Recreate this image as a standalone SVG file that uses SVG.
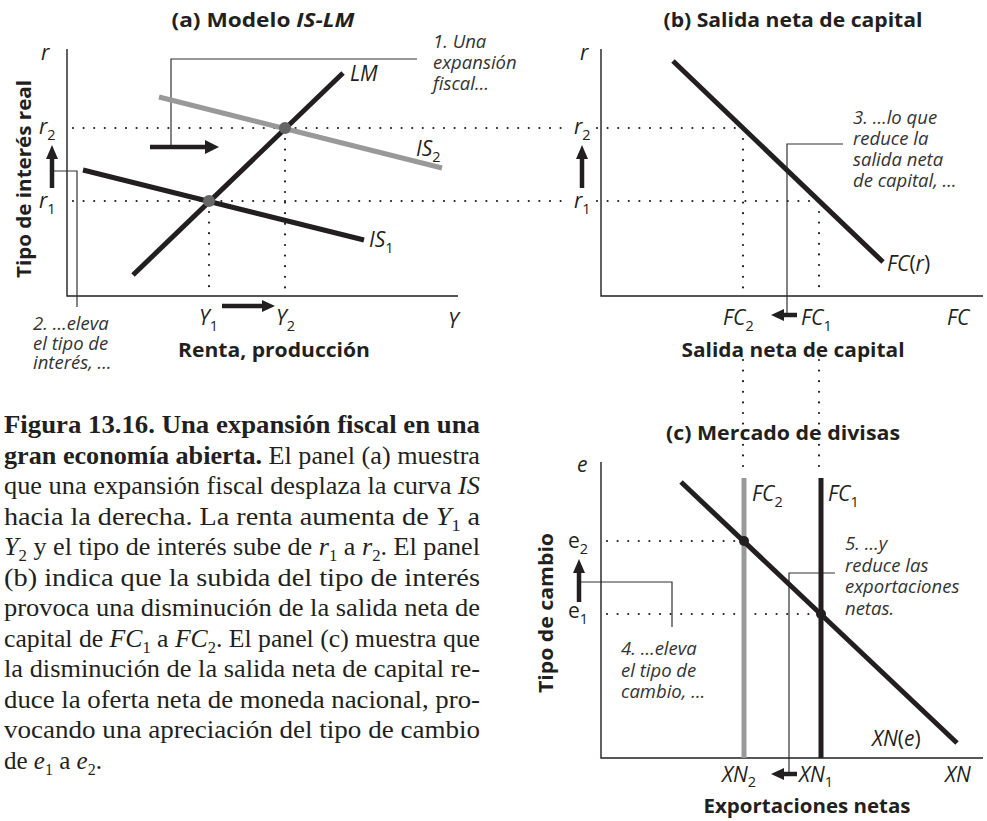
<svg xmlns="http://www.w3.org/2000/svg" width="987" height="821" viewBox="0 0 987 821">
<style>
.bg{fill:#fff}
.axis{stroke:#231f20;stroke-width:1.4;fill:none}
.curve{stroke:#231f20;stroke-width:5;fill:none}
.gcurve{stroke:#999;stroke-width:5;fill:none}
.dot{stroke:#231f20;stroke-width:2.2;stroke-linecap:round;stroke-dasharray:0 10.6;fill:none}
.lead{stroke:#333;stroke-width:1.2;fill:none}
.shaft{stroke:#231f20;stroke-width:4.5;fill:none}
.head{fill:#231f20}
.title{font-family:"Open Sans",Lato,sans-serif;font-weight:700;font-size:20px;fill:#231f20}
.axt{font-family:"Open Sans",Lato,sans-serif;font-weight:700;font-size:20px;fill:#231f20}
.lab{font-family:"Open Sans",Lato,sans-serif;font-style:italic;font-size:21px;fill:#231f20}
.up{font-family:"Open Sans",Lato,sans-serif;font-size:21px;fill:#231f20}
.note{font-family:"Open Sans",Lato,sans-serif;font-style:italic;font-size:18.5px;fill:#333}
.sub{font-size:14.5px;font-style:normal}
.cap{font-family:"Liberation Serif",serif;font-size:25px;fill:#231f20}
.cs{font-size:16px}
.b{font-weight:700}
.it{font-style:italic}
</style>
<rect class="bg" x="0" y="0" width="987" height="821"/>

<!-- Panel (a) -->
<g id="panel-a">
<text class="title" x="263" y="27" text-anchor="middle" textLength="183" lengthAdjust="spacingAndGlyphs">(a) Modelo <tspan class="it">IS-LM</tspan></text>
<path class="axis" d="M67,49 V296 H458"/>
<text class="lab" x="41" y="60">r</text>
<text class="lab" x="448" y="328">Y</text>
<text class="axt" x="274" y="357" text-anchor="middle" textLength="192" lengthAdjust="spacingAndGlyphs">Renta, producción</text>
<text class="axt" transform="translate(31,179) rotate(-90)" text-anchor="middle" textLength="198" lengthAdjust="spacingAndGlyphs">Tipo de interés real</text>
</g>

<g id="connectors">
<!-- dotted guides -->
<path class="dot" d="M73,128 H568 M597,128 H743"/>
<path class="dot" d="M73,201 H568 M597,201 H819"/>
<path class="dot" d="M209,212 V296 M285,139 V296"/>
<path class="dot" d="M743,139 V296 M819,212 V296"/>
<path class="dot" d="M743,360 V470 M819,360 V470"/>
<path class="dot" d="M607,541 H744 M607,614 H821"/>
<!-- callout leaders -->
<path class="lead" d="M171,147 V59 H417"/>
<path class="lead" d="M53,171 H77 V307"/>
<path class="lead" d="M843,144 H787 V315"/>
<path class="lead" d="M581,582 H672 V627"/>
<path class="lead" d="M835,573 H789 V774"/>
<!-- movement arrows -->
<path class="shaft" d="M150,147 H208"/><path class="head" d="M205,140 L219,147 L205,154 Z"/>
<path class="shaft" d="M222,306 H264"/><path class="head" d="M262,300 L275,306 L262,312 Z"/>
<path class="shaft" d="M52,188 V157"/><path class="head" d="M46,159 L52,145 L58,159 Z"/>
<path class="shaft" d="M582,188 V157"/><path class="head" d="M576,159 L582,145 L588,159 Z"/>
<path class="shaft" d="M579,602 V571"/><path class="head" d="M573,573 L579,559 L585,573 Z"/>
<path class="shaft" d="M797,315 H781"/><path class="head" d="M784,309 L771,315 L784,321 Z"/>
<path class="shaft" d="M797,774 H781"/><path class="head" d="M784,768 L771,774 L784,780 Z"/>
</g>

<g id="curve-LM">
<path class="curve" d="M133,275 L343,73"/>
<text class="lab" x="350" y="81">LM</text>
</g>
<g id="curve-IS2">
<path class="gcurve" d="M159,97 L442,168"/>
<text class="lab" x="416" y="156">IS<tspan class="sub" dy="6">2</tspan></text>
</g>
<g id="curve-IS1">
<path class="curve" d="M83,170 L364,240"/>
<text class="lab" x="369" y="247">IS<tspan class="sub" dy="6">1</tspan></text>
</g>
<g id="eq-a">
<circle cx="209" cy="201" r="6" fill="#666"/>
<circle cx="285" cy="128" r="6" fill="#666"/>
</g>
<g id="labels-a">
<text class="lab" x="39" y="134">r<tspan class="sub" dy="6">2</tspan></text>
<text class="lab" x="39" y="208">r<tspan class="sub" dy="6">1</tspan></text>
<text class="lab" x="199" y="325">Y<tspan class="sub" dy="6">1</tspan></text>
<text class="lab" x="276" y="325">Y<tspan class="sub" dy="6">2</tspan></text>
</g>
<g id="note-1">
<text class="note"><tspan x="433" y="48">1. Una</tspan><tspan x="433" y="69">expansión</tspan><tspan x="433" y="90">fiscal…</tspan></text>
</g>
<g id="note-2">
<text class="note"><tspan x="33" y="330">2. …eleva</tspan><tspan x="33" y="350">el tipo de</tspan><tspan x="33" y="369">interés, …</tspan></text>
</g>

<!-- Panel (b) -->
<g id="panel-b">
<text class="title" x="793" y="27" text-anchor="middle" textLength="259" lengthAdjust="spacingAndGlyphs">(b) Salida neta de capital</text>
<path class="axis" d="M601,49 V296 H983"/>
<text class="lab" x="580" y="60">r</text>
<text class="lab" x="574" y="134">r<tspan class="sub" dy="6">2</tspan></text>
<text class="lab" x="574" y="208">r<tspan class="sub" dy="6">1</tspan></text>
<text class="lab" x="947" y="325">FC</text>
<text class="lab" x="723" y="325">FC<tspan class="sub" dy="6">2</tspan></text>
<text class="lab" x="801" y="325">FC<tspan class="sub" dy="6">1</tspan></text>
<text class="axt" x="793" y="357" text-anchor="middle" textLength="223" lengthAdjust="spacingAndGlyphs">Salida neta de capital</text>
</g>
<g id="curve-FC">
<path class="curve" d="M673,61 L883,262"/>
<text class="lab" x="887" y="271">FC<tspan font-style="normal">(</tspan>r<tspan font-style="normal">)</tspan></text>
</g>
<g id="note-3">
<text class="note"><tspan x="853" y="124">3. …lo que</tspan><tspan x="853" y="145">reduce la</tspan><tspan x="853" y="166">salida neta</tspan><tspan x="853" y="187">de capital, …</tspan></text>
</g>

<!-- Panel (c) -->
<g id="panel-c">
<text class="title" x="783" y="440" text-anchor="middle" textLength="234" lengthAdjust="spacingAndGlyphs">(c) Mercado de divisas</text>
<path class="axis" d="M601,462 V758 H983"/>
<text class="lab" x="577" y="472">e</text>
<text class="up" x="568" y="548">e<tspan class="sub" dy="6">2</tspan></text>
<text class="up" x="568" y="618">e<tspan class="sub" dy="6">1</tspan></text>
<text class="lab" x="945" y="782">XN</text>
<text class="lab" x="722" y="782">XN<tspan class="sub" dy="5">2</tspan></text>
<text class="lab" x="799" y="782">XN<tspan class="sub" dy="5">1</tspan></text>
<text class="axt" x="807" y="813" text-anchor="middle" textLength="207" lengthAdjust="spacingAndGlyphs">Exportaciones netas</text>
<text class="axt" transform="translate(553,613) rotate(-90)" text-anchor="middle" textLength="160" lengthAdjust="spacingAndGlyphs">Tipo de cambio</text>
</g>
<g id="curve-FC2">
<path class="gcurve" d="M744,478 V758"/>
<text class="lab" x="752" y="501">FC<tspan class="sub" dy="6">2</tspan></text>
</g>
<g id="curve-FC1">
<path class="curve" d="M821,478 V758"/>
<text class="lab" x="828" y="501">FC<tspan class="sub" dy="6">1</tspan></text>
</g>
<g id="curve-XN">
<path class="curve" d="M681,482 L957,743"/>
<text class="lab" x="872" y="746">XN<tspan font-style="normal">(</tspan>e<tspan font-style="normal">)</tspan></text>
</g>
<g id="eq-c">
<circle cx="744" cy="541" r="5" fill="#231f20"/>
<circle cx="821" cy="614" r="5" fill="#231f20"/>
</g>
<g id="note-4">
<text class="note"><tspan x="621" y="655">4. …eleva</tspan><tspan x="621" y="677">el tipo de</tspan><tspan x="621" y="698">cambio, …</tspan></text>
</g>
<g id="note-5">
<text class="note"><tspan x="845" y="550">5. …y</tspan><tspan x="845" y="572">reduce las</tspan><tspan x="845" y="593">exportaciones</tspan><tspan x="845" y="615">netas.</tspan></text>
</g>

<!-- Caption -->
<g id="caption" class="cap">
<text x="4" y="433" textLength="476" lengthAdjust="spacingAndGlyphs" class="b">Figura 13.16. Una expansión fiscal en una</text>
<text x="4" y="463.5" textLength="476" lengthAdjust="spacingAndGlyphs"><tspan class="b">gran economía abierta.</tspan> El panel (a) muestra</text>
<text x="4" y="494" textLength="476" lengthAdjust="spacingAndGlyphs">que una expansión fiscal desplaza la curva <tspan class="it">IS</tspan></text>
<text x="4" y="524.5" textLength="476" lengthAdjust="spacingAndGlyphs">hacia la derecha. La renta aumenta de <tspan class="it">Y</tspan><tspan class="cs" dy="6">1</tspan><tspan dy="-6"> a</tspan></text>
<text x="4" y="555" textLength="476" lengthAdjust="spacingAndGlyphs"><tspan class="it">Y</tspan><tspan class="cs" dy="6">2</tspan><tspan dy="-6"> y el tipo de interés sube de </tspan><tspan class="it">r</tspan><tspan class="cs" dy="6">1</tspan><tspan dy="-6"> a </tspan><tspan class="it">r</tspan><tspan class="cs" dy="6">2</tspan><tspan dy="-6">. El panel</tspan></text>
<text x="4" y="585.5" textLength="476" lengthAdjust="spacingAndGlyphs">(b) indica que la subida del tipo de interés</text>
<text x="4" y="616" textLength="476" lengthAdjust="spacingAndGlyphs">provoca una disminución de la salida neta de</text>
<text x="4" y="646.5" textLength="476" lengthAdjust="spacingAndGlyphs">capital de <tspan class="it">FC</tspan><tspan class="cs" dy="6">1</tspan><tspan dy="-6"> a </tspan><tspan class="it">FC</tspan><tspan class="cs" dy="6">2</tspan><tspan dy="-6">. El panel (c) muestra que</tspan></text>
<text x="4" y="677" textLength="476" lengthAdjust="spacingAndGlyphs">la disminución de la salida neta de capital re-</text>
<text x="4" y="707.5" textLength="476" lengthAdjust="spacingAndGlyphs">duce la oferta neta de moneda nacional, pro-</text>
<text x="4" y="738" textLength="476" lengthAdjust="spacingAndGlyphs">vocando una apreciación del tipo de cambio</text>
<text x="4" y="768.5">de <tspan class="it">e</tspan><tspan class="cs" dy="6">1</tspan><tspan dy="-6"> a </tspan><tspan class="it">e</tspan><tspan class="cs" dy="6">2</tspan><tspan dy="-6">.</tspan></text>
</g>
</svg>
